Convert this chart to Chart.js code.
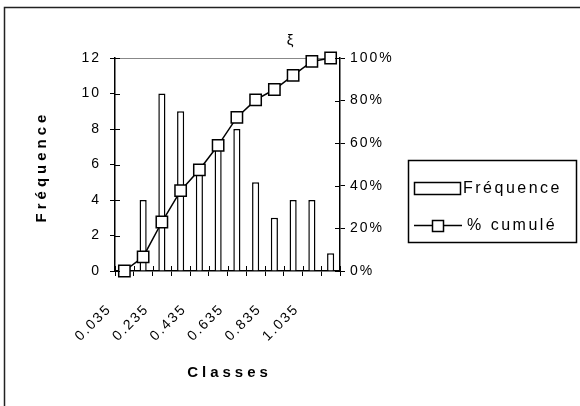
<!DOCTYPE html>
<html>
<head>
<meta charset="utf-8">
<script src="https://cdn.jsdelivr.net/npm/chart.js@4/dist/chart.umd.min.js"></script>
<style>
  html, body { margin: 0; padding: 0; background: #fff; }
  canvas { display: block; }
</style>
</head>
<body>
<canvas id="graf" width="580" height="406"></canvas>
<script>
// classes et fréquences
var classes = ['0.035', '0.135', '0.235', '0.335', '0.435', '0.535', '0.635', '0.735', '0.835', '0.935', '1.035', 'Plus'];
var frequences = [0, 4, 10, 9, 6, 7, 8, 5, 3, 4, 4, 1];
var pctCumule = [0, 6.6, 23, 37.7, 47.5, 59, 72.1, 80.3, 85.2, 91.8, 98.4, 100];
var ticksFreq = [0, 2, 4, 6, 8, 10, 12];
var ticksPct = [0, 20, 40, 60, 80, 100];
var titre = 'ξ';
var titreX = 'Classes';
var titreY = 'Fréquence';

Chart.defaults.font.family = '"Liberation Sans", Arial, sans-serif';
Chart.defaults.font.size = 14;
Chart.defaults.color = '#000';

function trait(ctx, x1, y1, x2, y2) {
    ctx.beginPath();
    ctx.moveTo(x1, y1);
    ctx.lineTo(x2, y2);
    ctx.stroke();
}

// cadre, titres, graduations intérieures et légende
var decor = {
    id: 'decor',
    beforeUpdate: function (chart) { chart.ctx.letterSpacing = '2px'; },
    beforeDraw: function (chart) { chart.ctx.letterSpacing = '2px'; },
    afterDraw: function (chart) {
        var ctx = chart.ctx;
        var a = chart.chartArea;
        var sx = chart.scales.x, sy = chart.scales.y, sp = chart.scales.pct;
        ctx.save();

        // cadre extérieur (haut + gauche)
        ctx.strokeStyle = '#222';
        ctx.lineWidth = 1.5;
        ctx.beginPath();
        ctx.moveTo(4.5, 406);
        ctx.lineTo(4.5, 7.5);
        ctx.lineTo(580, 7.5);
        ctx.stroke();

        // graduations vers l'intérieur
        ctx.strokeStyle = '#000';
        ctx.lineWidth = 1;
        sy.ticks.forEach(function (t) {
            var y = Math.round(sy.getPixelForValue(t.value)) + 0.5;
            trait(ctx, a.left, y, a.left + 5, y);
        });
        sp.ticks.forEach(function (t) {
            var y = Math.round(sp.getPixelForValue(t.value)) + 0.5;
            trait(ctx, a.right - 5, y, a.right, y);
        });
        var demi = (sx.getPixelForValue(1) - sx.getPixelForValue(0)) / 2;
        for (var i = 0; i <= classes.length; i++) {
            var x = Math.round(sx.getPixelForValue(i) - demi) + 0.5;
            trait(ctx, x, a.bottom - 5, x, a.bottom);
        }

        // titres
        ctx.fillStyle = '#000';
        ctx.textAlign = 'center';
        ctx.textBaseline = 'middle';
        ctx.letterSpacing = '0px';
        ctx.font = '15px "Liberation Sans"';
        ctx.fillText(titre, 290, 41);

        ctx.font = 'bold 15px "Liberation Sans"';
        ctx.letterSpacing = '4px';
        ctx.fillText(titreX, (a.left + a.right) / 2 + 2, 373);
        ctx.save();
        ctx.translate(42, (a.top + a.bottom) / 2 + 2);
        ctx.rotate(-Math.PI / 2);
        ctx.fillText(titreY, 0, 0);
        ctx.restore();

        // légende
        var dsBarres = chart.data.datasets.find(function (d) { return d.type !== 'line'; });
        var dsLigne = chart.data.datasets.find(function (d) { return d.type === 'line'; });
        ctx.lineWidth = 1.5;
        ctx.strokeStyle = '#000';
        ctx.strokeRect(408.5, 160.5, 168, 82);
        ctx.font = '16px "Liberation Sans"';
        ctx.letterSpacing = '2.5px';
        ctx.textAlign = 'left';

        ctx.fillStyle = '#fff';
        ctx.fillRect(414, 182, 46, 12);
        ctx.strokeRect(414.5, 182.5, 46, 12);
        ctx.fillStyle = '#000';
        ctx.fillText(dsBarres.label, 463, 189);

        trait(ctx, 414, 225.5, 462, 225.5);
        ctx.fillStyle = '#fff';
        ctx.fillRect(432, 220, 11, 11);
        ctx.strokeRect(432.5, 220.5, 11, 11);
        ctx.fillStyle = '#000';
        ctx.fillText(dsLigne.label, 467, 226);

        ctx.restore();
    },
    beforeDatasetsDraw: function (chart) {
        // bord supérieur de la zone de tracé
        var ctx = chart.ctx, a = chart.chartArea;
        ctx.save();
        ctx.strokeStyle = '#888';
        ctx.lineWidth = 1;
        trait(ctx, a.left, a.top + 0.5, a.right, a.top + 0.5);
        ctx.restore();
    }
};

new Chart(document.getElementById('graf'), {
    type: 'bar',
    data: {
        labels: classes,
        datasets: [{
            type: 'line',
            label: '% cumulé',
            data: pctCumule,
            yAxisID: 'pct',
            order: 0,
            clip: false,
            borderColor: '#000',
            borderWidth: 1.5,
            tension: 0,
            pointStyle: 'rect',
            pointRadius: 8,
            pointBackgroundColor: '#fff',
            pointBorderColor: '#000',
            pointBorderWidth: 1.5
        }, {
            label: 'Fréquence',
            data: frequences,
            yAxisID: 'y',
            order: 1,
            backgroundColor: '#fff',
            borderColor: '#000',
            borderWidth: 1.5,
            barPercentage: 0.38,
            categoryPercentage: 1
        }]
    },
    options: {
        responsive: false,
        animation: false,
        layout: { padding: { left: 0, top: 58, right: 0, bottom: 0 } },
        plugins: {
            legend: { display: false },
            title: { display: false },
            tooltip: { enabled: false }
        },
        scales: {
            x: {
                grid: { offset: true, drawOnChartArea: false, tickLength: 5, color: '#000' },
                border: { color: '#000', width: 1.5 },
                ticks: {
                    autoSkip: false,
                    minRotation: 45,
                    maxRotation: 45,
                    padding: 25,
                    labelOffset: -15,
                    font: { size: 14 },
                    callback: function (v, i) { return i % 2 === 0 ? classes[i] : ''; }
                },
                afterFit: function (s) { s.height = 135; }
            },
            y: {
                position: 'left',
                min: 0,
                max: 12,
                afterBuildTicks: function (s) { s.ticks = ticksFreq.map(function (v) { return { value: v }; }); },
                grid: { drawOnChartArea: false, tickLength: 5, color: '#000' },
                border: { color: '#000', width: 1.5 },
                ticks: { padding: 9, font: { size: 14 } },
                afterFit: function (s) { s.width = 115; }
            },
            pct: {
                position: 'right',
                min: 0,
                max: 100,
                afterBuildTicks: function (s) { s.ticks = ticksPct.map(function (v) { return { value: v }; }); },
                grid: { drawOnChartArea: false, tickLength: 5, color: '#000' },
                border: { color: '#000', width: 1.5 },
                ticks: {
                    padding: 5,
                    font: { size: 14 },
                    callback: function (v) { return v + '%'; }
                },
                afterFit: function (s) { s.width = 240; }
            }
        }
    },
    plugins: [decor]
});
</script>
</body>
</html>
